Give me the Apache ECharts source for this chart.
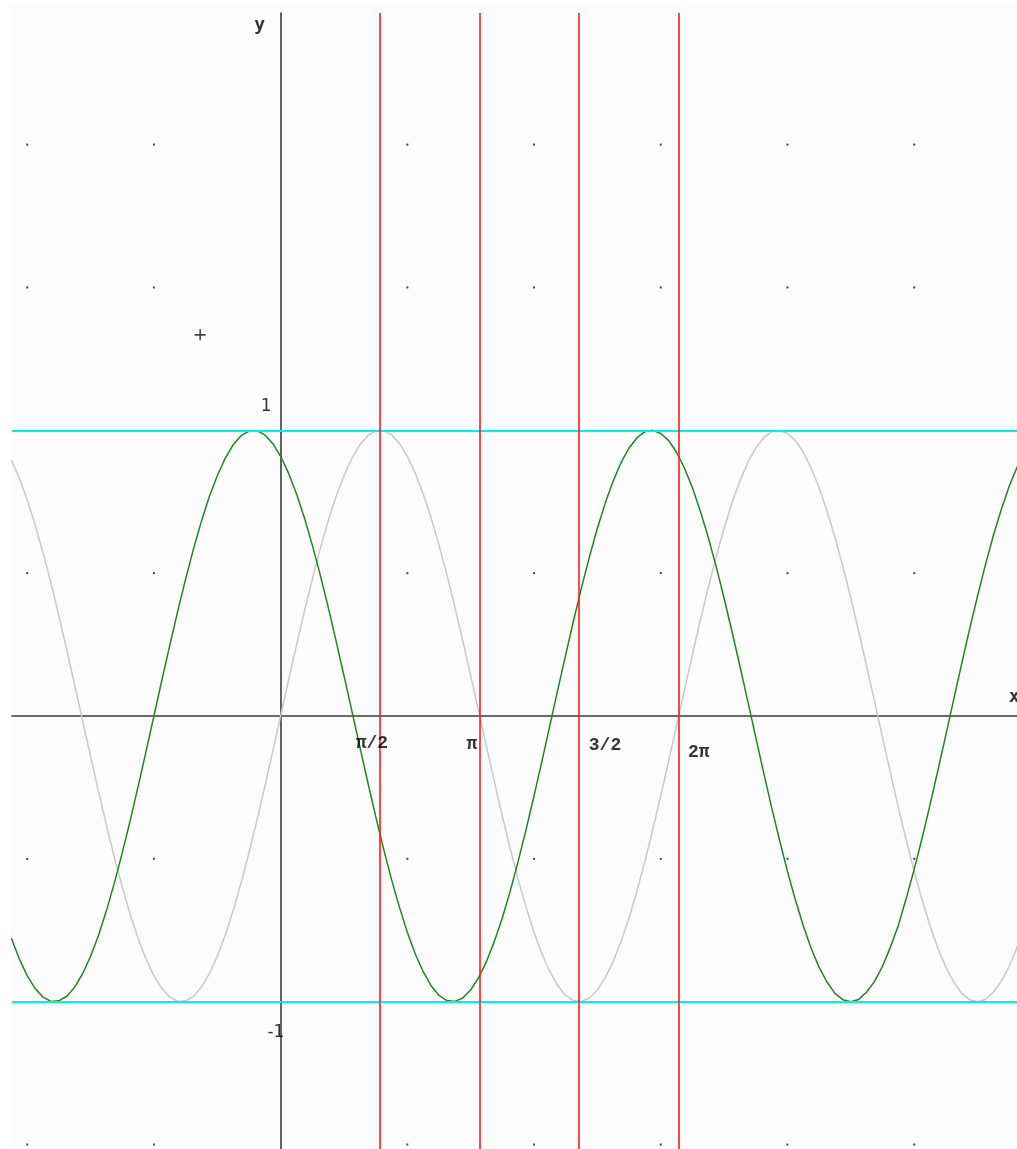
<!DOCTYPE html>
<html>
<head>
<meta charset="utf-8">
<script src="https://cdn.jsdelivr.net/npm/echarts@6/dist/echarts.min.js"></script>
<style>
html,body{margin:0;padding:0;background:#fff;}
#c{width:1017px;height:1149px;}
</style>
</head>
<body>
<div id="c"></div>
<script>
// x samples (radians), one row per unit
const xs = [
  -4.25,-4.125,
  -4,-3.875,-3.75,-3.625,-3.5,-3.375,-3.25,-3.125,
  -3,-2.875,-2.75,-2.625,-2.5,-2.375,-2.25,-2.125,
  -2,-1.875,-1.75,-1.625,-1.5,-1.375,-1.25,-1.125,
  -1,-0.875,-0.75,-0.625,-0.5,-0.375,-0.25,-0.125,
  0,0.125,0.25,0.375,0.5,0.625,0.75,0.875,
  1,1.125,1.25,1.375,1.5,1.625,1.75,1.875,
  2,2.125,2.25,2.375,2.5,2.625,2.75,2.875,
  3,3.125,3.25,3.375,3.5,3.625,3.75,3.875,
  4,4.125,4.25,4.375,4.5,4.625,4.75,4.875,
  5,5.125,5.25,5.375,5.5,5.625,5.75,5.875,
  6,6.125,6.25,6.375,6.5,6.625,6.75,6.875,
  7,7.125,7.25,7.375,7.5,7.625,7.75,7.875,
  8,8.125,8.25,8.375,8.5,8.625,8.75,8.875,
  9,9.125,9.25,9.375,9.5,9.625,9.75,9.875,
  10,10.125,10.25,10.375,10.5,10.625,10.75,10.875,
  11,11.125,11.25,11.375,11.5,11.625,11.75];
// gray curve values
const grayCurve = [
  0.895,0.833,
  0.757,0.669,0.572,0.465,0.351,0.231,0.108,-0.017,
  -0.141,-0.263,-0.382,-0.494,-0.598,-0.694,-0.778,-0.850,
  -0.909,-0.954,-0.984,-0.999,-0.997,-0.981,-0.949,-0.902,
  -0.841,-0.768,-0.682,-0.585,-0.479,-0.366,-0.247,-0.125,
  0,0.125,0.247,0.366,0.479,0.585,0.682,0.768,
  0.841,0.902,0.949,0.981,0.997,0.999,0.984,0.954,
  0.909,0.850,0.778,0.694,0.598,0.494,0.382,0.263,
  0.141,0.017,-0.108,-0.231,-0.351,-0.465,-0.572,-0.669,
  -0.757,-0.833,-0.895,-0.944,-0.978,-0.996,-0.999,-0.987,
  -0.959,-0.916,-0.859,-0.788,-0.706,-0.612,-0.508,-0.397,
  -0.279,-0.158,-0.033,0.092,0.215,0.335,0.450,0.558,
  0.657,0.746,0.823,0.888,0.938,0.974,0.995,1.000,
  0.989,0.964,0.923,0.867,0.799,0.717,0.625,0.523,
  0.412,0.295,0.174,0.050,-0.075,-0.199,-0.320,-0.435,
  -0.544,-0.644,-0.734,-0.814,-0.880,-0.932,-0.971,-0.993,
  -1.000,-0.992,-0.966,-0.929,-0.876,-0.809,-0.733];
// green curve values
const greenCurve = [
  -0.778,-0.850,
  -0.909,-0.954,-0.984,-0.999,-0.997,-0.981,-0.949,-0.902,
  -0.841,-0.768,-0.682,-0.585,-0.479,-0.366,-0.247,-0.125,
  0,0.125,0.247,0.366,0.479,0.585,0.682,0.768,
  0.841,0.902,0.949,0.981,0.997,0.999,0.984,0.954,
  0.909,0.850,0.778,0.694,0.598,0.494,0.382,0.263,
  0.141,0.017,-0.108,-0.231,-0.351,-0.465,-0.572,-0.669,
  -0.757,-0.833,-0.895,-0.944,-0.978,-0.996,-0.999,-0.987,
  -0.959,-0.916,-0.859,-0.788,-0.706,-0.612,-0.508,-0.397,
  -0.279,-0.158,-0.033,0.092,0.215,0.335,0.450,0.558,
  0.657,0.746,0.823,0.888,0.938,0.974,0.995,1.000,
  0.989,0.964,0.923,0.867,0.799,0.717,0.625,0.523,
  0.412,0.295,0.174,0.050,-0.075,-0.199,-0.320,-0.435,
  -0.544,-0.644,-0.734,-0.814,-0.880,-0.932,-0.971,-0.993,
  -1.000,-0.992,-0.966,-0.929,-0.876,-0.809,-0.733,-0.638,
  -0.537,-0.427,-0.311,-0.190,-0.066,0.059,0.183,0.304,
  0.420,0.530,0.632,0.723,0.804,0.871,0.926];
const redLinesX = [Math.PI/2, Math.PI, 3*Math.PI/2, 2*Math.PI];
const cyanLinesY = [1, -1];
const dotX = [-4,-2,2,4,6,8,10];
const dotY = [2,1.5,0.5,-0.5,-1.5];
const xTickTexts = ['π/2','π','3/2','2π'];
const xTickPos = [[1.44,-0.095],[3.02,-0.098],[5.12,-0.102],[6.60,-0.126]];
const yTickTexts = ['1','-1'];
const yTickPos = [[-0.23,1.083],[-0.075,-1.108]];
const axisNames = ['y','x'];
const axisNamePos = [[-0.33,2.418],[11.58,0.067]];
const crossPoint = [-1.27,1.334];

const X_MIN = -4.24, X_MAX = 11.623, Y_MIN = -1.5156, Y_MAX = 2.4606;

const curve = (vals) => xs.map((x,i)=>[x, vals[i]]);
const dots = [];
dotX.forEach(x=>dotY.forEach(y=>dots.push([x,y])));
const textItems = (pos, texts) => pos.map((p,i)=>({value:p, name:texts[i]}));

const chart = echarts.init(document.getElementById('c'), null, {renderer:'canvas'});
chart.setOption({
  backgroundColor:'#ffffff',
  animation:false,
  graphic:{elements:[{type:'rect', z:-100, silent:true,
    shape:{x:11, y:4, width:1006, height:1145}, style:{fill:'#fcfcfc'}}]},
  grid:{left:12, top:13, right:0, bottom:0, show:false},
  xAxis:{type:'value', min:X_MIN, max:X_MAX,
    axisLine:{onZero:true, lineStyle:{color:'#3a3a3a', width:1.6}},
    axisTick:{show:false}, axisLabel:{show:false}, splitLine:{show:false}},
  yAxis:{type:'value', min:Y_MIN, max:Y_MAX,
    axisLine:{onZero:true, lineStyle:{color:'#3a3a3a', width:1.6}},
    axisTick:{show:false}, axisLabel:{show:false}, splitLine:{show:false}},
  series:[
    {type:'scatter', data:dots, symbol:'rect', symbolSize:2, itemStyle:{color:'#1a1a1a'}, silent:true, z:1},
    {type:'line', data:curve(grayCurve), smooth:false, showSymbol:false,
      lineStyle:{color:'#c8c8c8', width:1.5}, z:2,
      markLine:{silent:true, symbol:'none', label:{show:false},
        lineStyle:{color:'#00f0f0', width:2, type:'solid'},
        data: cyanLinesY.map(v=>({yAxis:v}))}},
    {type:'line', data:curve(greenCurve), smooth:false, showSymbol:false,
      lineStyle:{color:'#1a8a1a', width:1.5}, z:4,
      markLine:{silent:true, symbol:'none', label:{show:false},
        lineStyle:{color:'#ff1a1a', width:1.6, type:'solid'},
        data: redLinesX.map(v=>({xAxis:v}))}},
    {type:'scatter', data:textItems(xTickPos, xTickTexts), symbolSize:0, silent:true, z:6,
      label:{show:true, position:'inside', formatter:p=>p.name, color:'#000',
        fontFamily:'Liberation Mono', fontSize:18, fontWeight:'bold'}},
    {type:'scatter', data:textItems(yTickPos, yTickTexts), symbolSize:0, silent:true, z:6,
      label:{show:true, position:'inside', formatter:p=>p.name, color:'#000',
        fontFamily:'DejaVu Sans', fontSize:17}},
    {type:'scatter', data:textItems(axisNamePos, axisNames), symbolSize:0, silent:true, z:6,
      label:{show:true, position:'inside', formatter:p=>p.name, color:'#000',
        fontFamily:'DejaVu Sans Mono', fontSize:18, fontWeight:'bold'}},
    {type:'scatter', data:[crossPoint], symbol:'path://M0,4.3H10V5.7H0Z M4.3,0H5.7V10H4.3Z', symbolSize:11,
      itemStyle:{color:'#111'}, silent:true, z:6}
  ]
});
</script>
</body>
</html>
